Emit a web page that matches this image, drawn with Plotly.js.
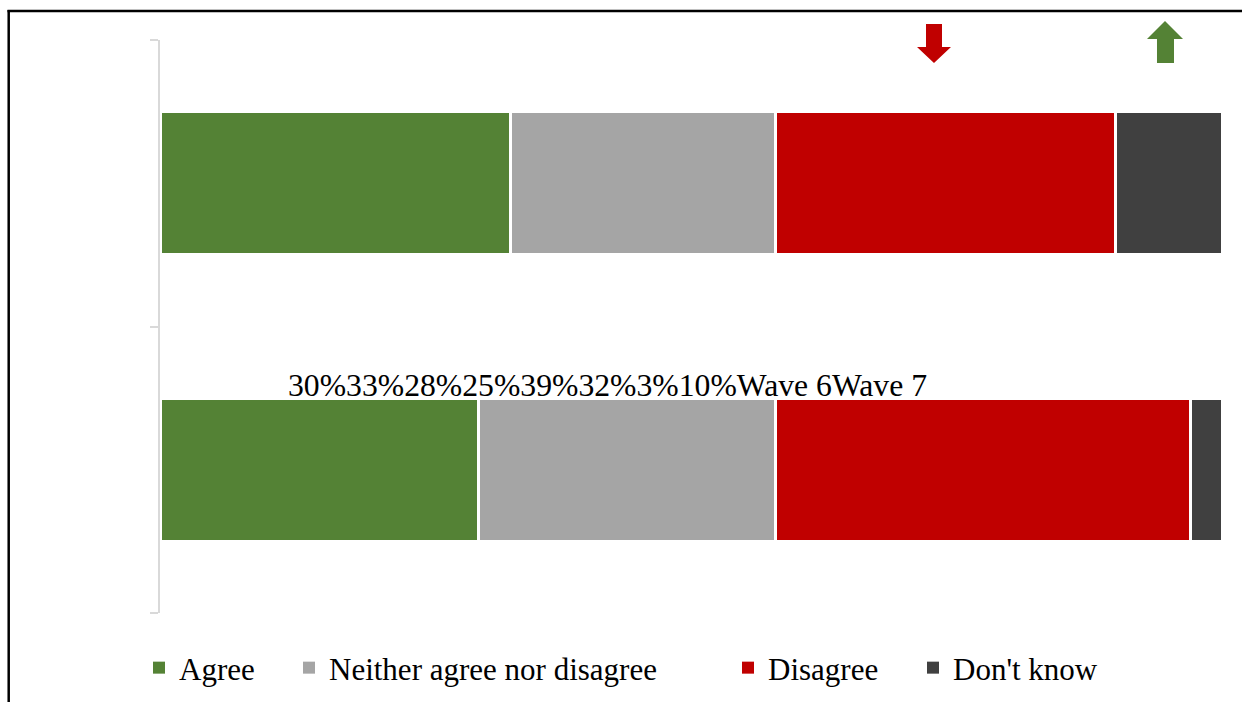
<!DOCTYPE html>
<html>
<head>
<meta charset="utf-8">
<script src="https://cdn.plot.ly/plotly-3.0.1.min.js"></script>
<style>
  html, body { margin: 0; padding: 0; background: #ffffff; }
  #chart { width: 1242px; height: 702px; }
</style>
</head>
<body>
<div id="chart"></div>
<script>
// ---- Data ----
const waves = ["Wave 6", "Wave 7"];
const seriesNames = ["Agree", "Neither agree nor disagree", "Disagree", "Don't know"];
const agree = [30, 33];
const neither = [28, 25];
const disagree = [39, 32];
const dontKnow = [3, 10];
const colors = ["#548235", "#a5a5a5", "#c00000", "#404040"];
const jumbledLabel = "30%33%28%25%39%32%3%10%Wave 6Wave 7";

// ---- Layout helpers (pixel -> paper) ----
const W = 1242, H = 702;
const mL = 160, mR = 20, mT = 40, mB = 89;
const pw = W - mL - mR, ph = H - mT - mB;
const px = x => (x - mL) / pw;
const py = y => (H - mB - y) / ph;

const fontFam = '"Liberation Serif", "Times New Roman", Times, serif';
const seriesValues = [agree, neither, disagree, dontKnow];
const legendIds = ["legend", "legend2", "legend3", "legend4"];
const legendTextX = [179, 329, 768, 953];

// stacked bars (drawn from the data arrays)
const barTraces = seriesNames.map((name, i) => ({
  type: "bar",
  orientation: "h",
  name: name,
  y: waves,
  x: seriesValues[i],
  marker: { color: colors[i], line: { color: "#ffffff", width: 3 } },
  showlegend: false,
  hoverinfo: "x+name"
}));

// legend entries (square swatches, one legend per series)
const legendTraces = seriesNames.map((name, i) => ({
  type: "scatter",
  mode: "markers",
  name: name,
  x: [null],
  y: [null],
  marker: { symbol: "square", size: 12, color: colors[i], line: { width: 0 } },
  legend: legendIds[i],
  showlegend: true,
  hoverinfo: "skip"
}));

function legendAt(i) {
  return {
    orientation: "h",
    x: px(legendTextX[i] - 40),
    xanchor: "left",
    y: py(668),
    yanchor: "middle",
    bgcolor: "rgba(0,0,0,0)",
    borderwidth: 0,
    itemsizing: "constant",
    font: { family: fontFam, size: 31, color: "#000000" }
  };
}

function arrowPath(pts) {
  return "M" + pts.map(p => px(p[0]).toFixed(5) + "," + py(p[1]).toFixed(5)).join("L") + "Z";
}

const downArrow = arrowPath([[926,24],[942,24],[942,47],[951,47],[934,63],[917,47],[926,47]]);
const upArrow = arrowPath([[1165,21],[1183,39],[1174,39],[1174,63],[1157,63],[1157,39],[1147,39]]);

const layout = {
  width: W, height: H,
  margin: { l: mL, r: mR, t: mT, b: mB, autoexpand: false },
  paper_bgcolor: "#ffffff",
  plot_bgcolor: "#ffffff",
  barmode: "stack",
  bargap: 0.5,
  font: { family: fontFam, size: 31, color: "#000000" },
  xaxis: { range: [0, 100], visible: false, fixedrange: true },
  yaxis: {
    type: "category",
    categoryorder: "array",
    categoryarray: waves,
    range: [-0.5, 1.5],
    showticklabels: false,
    showgrid: false,
    zeroline: false,
    showline: true,
    linecolor: "#d9d9d9",
    linewidth: 2,
    ticks: "outside",
    tickson: "boundaries",
    ticklen: 8,
    tickwidth: 2,
    tickcolor: "#d9d9d9",
    fixedrange: true
  },
  showlegend: true,
  legend: legendAt(0),
  legend2: legendAt(1),
  legend3: legendAt(2),
  legend4: legendAt(3),
  annotations: [{
    xref: "paper", yref: "paper",
    x: px(286), y: py(385),
    xanchor: "left", yanchor: "middle",
    text: jumbledLabel,
    showarrow: false,
    font: { family: fontFam, size: 31.7, color: "#000000" }
  }],
  shapes: [
    { type: "path", xref: "paper", yref: "paper", path: downArrow, fillcolor: "#c00000", line: { width: 0 } },
    { type: "path", xref: "paper", yref: "paper", path: upArrow, fillcolor: "#548235", line: { width: 0 } },
    { type: "line", xref: "paper", yref: "paper", x0: px(8.7), x1: px(8.7), y0: py(10), y1: py(705), line: { color: "#000000", width: 2.5 } },
    { type: "line", xref: "paper", yref: "paper", x0: px(7.5), x1: px(1245), y0: py(11), y1: py(11), line: { color: "#000000", width: 2.5 } }
  ]
};

Plotly.newPlot("chart", barTraces.concat(legendTraces), layout, { displayModeBar: false, staticPlot: true });
</script>
</body>
</html>
